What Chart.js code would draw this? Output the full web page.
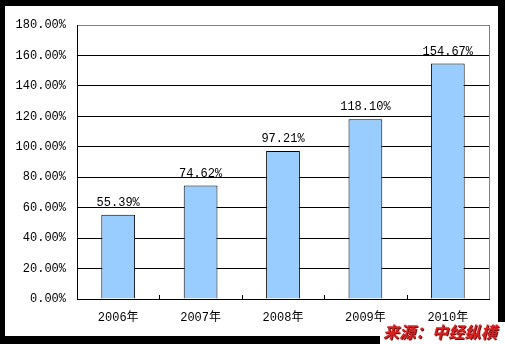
<!DOCTYPE html>
<html><head><meta charset="utf-8">
<script src="https://cdn.jsdelivr.net/npm/chart.js@4"></script>
<style>
html,body{margin:0;padding:0;background:#000;width:505px;height:344px;overflow:hidden;}
#wrap{position:absolute;left:0;top:0;width:505px;height:344px;}
#src{position:absolute;left:380px;top:322px;width:125px;height:22px;background:#fff;
 font-family:"Noto Sans CJK SC";font-weight:bold;font-style:italic;font-size:16px;line-height:19px;color:#d82020;
 text-shadow:1px 1px 0 #701010;padding-left:3px;box-sizing:border-box;letter-spacing:0.3px;white-space:nowrap;}
</style></head>
<body>
<div id="wrap"><canvas id="c" width="505" height="344"></canvas></div>
<div id="src">来源：中经纵横</div>
<script>
const categories = ["2006年","2007年","2008年","2009年","2010年"];
const growthValues = [55.39, 74.62, 97.21, 118.10, 154.67];
const yTicks = [0,20,40,60,80,100,120,140,160,180];

const framePlugin = {
  id:'frame',
  beforeDraw(chart){
    const c = chart.ctx;
    c.save();
    c.fillStyle='#000'; c.fillRect(0,0,chart.width,chart.height);
    c.fillStyle='#fff'; c.fillRect(5,6,493,330);
    c.restore();
  },
  afterDatasetsDraw(chart){
    const c = chart.ctx, xs = chart.scales.x, a = chart.chartArea;
    c.save();
    c.strokeStyle='#808080'; c.lineWidth=1;
    c.beginPath(); c.moveTo(Math.round(a.right)+0.5,a.top); c.lineTo(Math.round(a.right)+0.5,a.bottom); c.stroke();
    c.strokeStyle='#000';
    for(let i=0;i<categories.length-1;i++){
      const x = Math.round((xs.getPixelForValue(i)+xs.getPixelForValue(i+1))/2)+0.5;
      c.beginPath(); c.moveTo(x,a.bottom); c.lineTo(x,a.bottom-4); c.stroke();
    }
    c.fillStyle='#000'; c.font='12px "Liberation Mono"'; c.textAlign='center'; c.textBaseline='bottom';
    const meta = chart.getDatasetMeta(0);
    meta.data.forEach((bar,i)=>{
      c.fillText(growthValues[i].toFixed(2)+'%', bar.x, bar.y-6);
    });
    c.restore();
  }
};

new Chart(document.getElementById('c'),{
  type:'bar',
  data:{labels:categories,datasets:[{data:growthValues,backgroundColor:'#99ccff',borderColor:'#000',borderWidth:1,
    barPercentage:0.41,categoryPercentage:1}]},
  options:{
    responsive:false,animation:false,devicePixelRatio:1,
    layout:{padding:{left:0,top:25,right:16,bottom:0}},
    plugins:{legend:{display:false},tooltip:{enabled:false}},
    scales:{
      x:{
        grid:{display:false,drawTicks:false},
        border:{color:'#000',width:1},
        ticks:{color:'#000',font:{family:'"Liberation Mono","Noto Sans CJK SC"',size:12},padding:12},
        afterFit(s){s.height=45;s.paddingLeft=0;s.paddingRight=0;}
      },
      y:{
        min:0,max:180,
        afterBuildTicks(s){s.ticks=yTicks.map(v=>({value:v}));},
        grid:{color:(ctx)=>ctx.tick && ctx.tick.value===180?'#808080':'#000',drawTicks:false},
        border:{color:'#000',width:1},
        ticks:{color:'#000',font:{family:'"Liberation Mono"',size:12},padding:11,
          callback:(v)=>Number(v).toFixed(2)+'%'},
        afterFit(s){s.width=77;s.paddingTop=0;s.paddingBottom=0;}
      }
    }
  },
  plugins:[framePlugin]
});
</script>
</body></html>
